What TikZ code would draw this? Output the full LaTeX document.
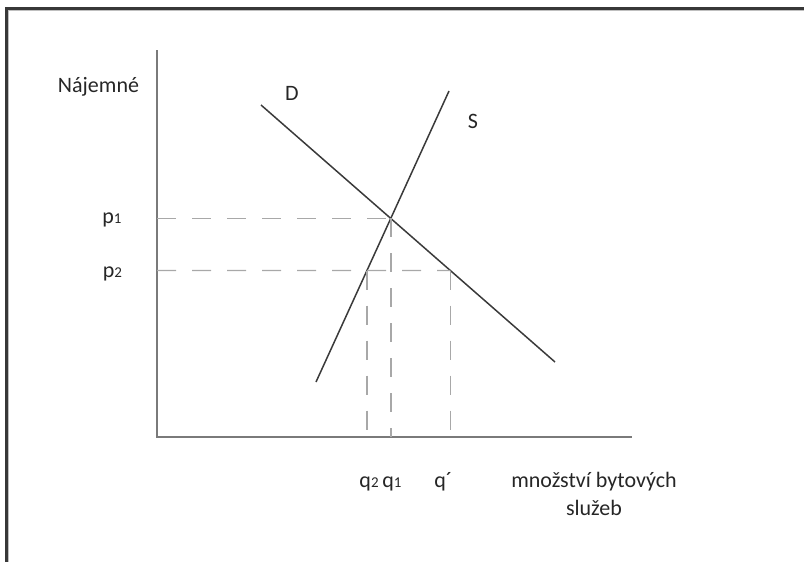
\documentclass[tikz,border=0pt]{standalone}
\usepackage{fontspec}
\setmainfont{Carlito}
\usetikzlibrary{positioning}
\definecolor{frmc}{HTML}{383838}
\definecolor{axc}{HTML}{7A7A7A}
\definecolor{crvc}{HTML}{3A3A3A}
\definecolor{gdc}{HTML}{A8A8A8}
\newcommand\lo[1]{{\fontsize{7.5}{9}\selectfont#1}}
\tikzset{
  frm/.style={draw=frmc,line width=1.3pt},
  frmin/.style={draw=black!25,line width=.5pt},
  ax/.style={draw=axc,line width=1pt},
  crv/.style={draw=crvc,line width=.75pt},
  gd/.style={draw=gdc,line width=.7pt,dash pattern=on 9.5pt off 8pt},
  lb/.style={font=\fontsize{11}{14}\selectfont,inner sep=0pt,text=black!85},
  tk/.style={lb,anchor=base},
}
\begin{document}
\begin{tikzpicture}[x=0.5pt,y=-0.5pt]
\useasboundingbox (0,0) rectangle (804,562);
% the box the figure sits in, open at right and bottom
\draw[frm] (6.5,562) -- (6.5,8.5) -- (804,8.5);
\draw[frmin] (8.8,562) -- (8.8,10.8) -- (804,10.8);
% axes
\coordinate (O) at (157,437);
\coordinate (ytop) at (157,50);
\coordinate (xend) at (632,437);
\draw[ax] (ytop) -- (O) -- (xend);
% demand and supply
\coordinate (D1) at (261,105); \coordinate (D2) at (555,362);
\coordinate (S1) at (316,382); \coordinate (S2) at (449,91);
\draw[crv] (D1) -- (D2);
\draw[crv] (S1) -- (S2);
% equilibrium and the lower rent p2
\coordinate (E) at (intersection of D1--D2 and S1--S2);
\coordinate (h1) at (157,270.5); \coordinate (h2) at (632,270.5);
\coordinate (Sp) at (intersection of S1--S2 and h1--h2);
\coordinate (Dp) at (intersection of D1--D2 and h1--h2);
\coordinate (p1a) at (O |- E); \coordinate (p2a) at (O |- Sp);
\coordinate (q1a) at (E |- O); \coordinate (q2a) at (Sp |- O);
\coordinate (qda) at (Dp |- O);
\draw[gd] (p1a) -- (E);
\draw[gd] (p2a) -- (Dp);
\draw[gd] (E) -- (q1a);
\draw[gd] (Sp) -- (q2a);
\draw[gd] (Dp) -- (qda);
% labels
\node[tk] (ny) at (98.5,92) {Nájemné};
\node[tk] (nD) at (292,100) {D};
\node[tk] (nS) at (473,128) {S};
\node[tk] (np1) at (112,223) {p\lo{1}};
\node[tk] (np2) at (112.5,277) {p\lo{2}};
\node[tk,anchor=base east] (nq2) at (379,487) {q\lo{2}};
\node[tk,anchor=base west] (nq1) at (382,487) {q\lo{1}};
\node[tk,anchor=base west] (nqd) at (434,487) {q´};
\node[lb,align=center,anchor=base] (nx) at (594,515) {množství bytových\\služeb};
\end{tikzpicture}
\end{document}
